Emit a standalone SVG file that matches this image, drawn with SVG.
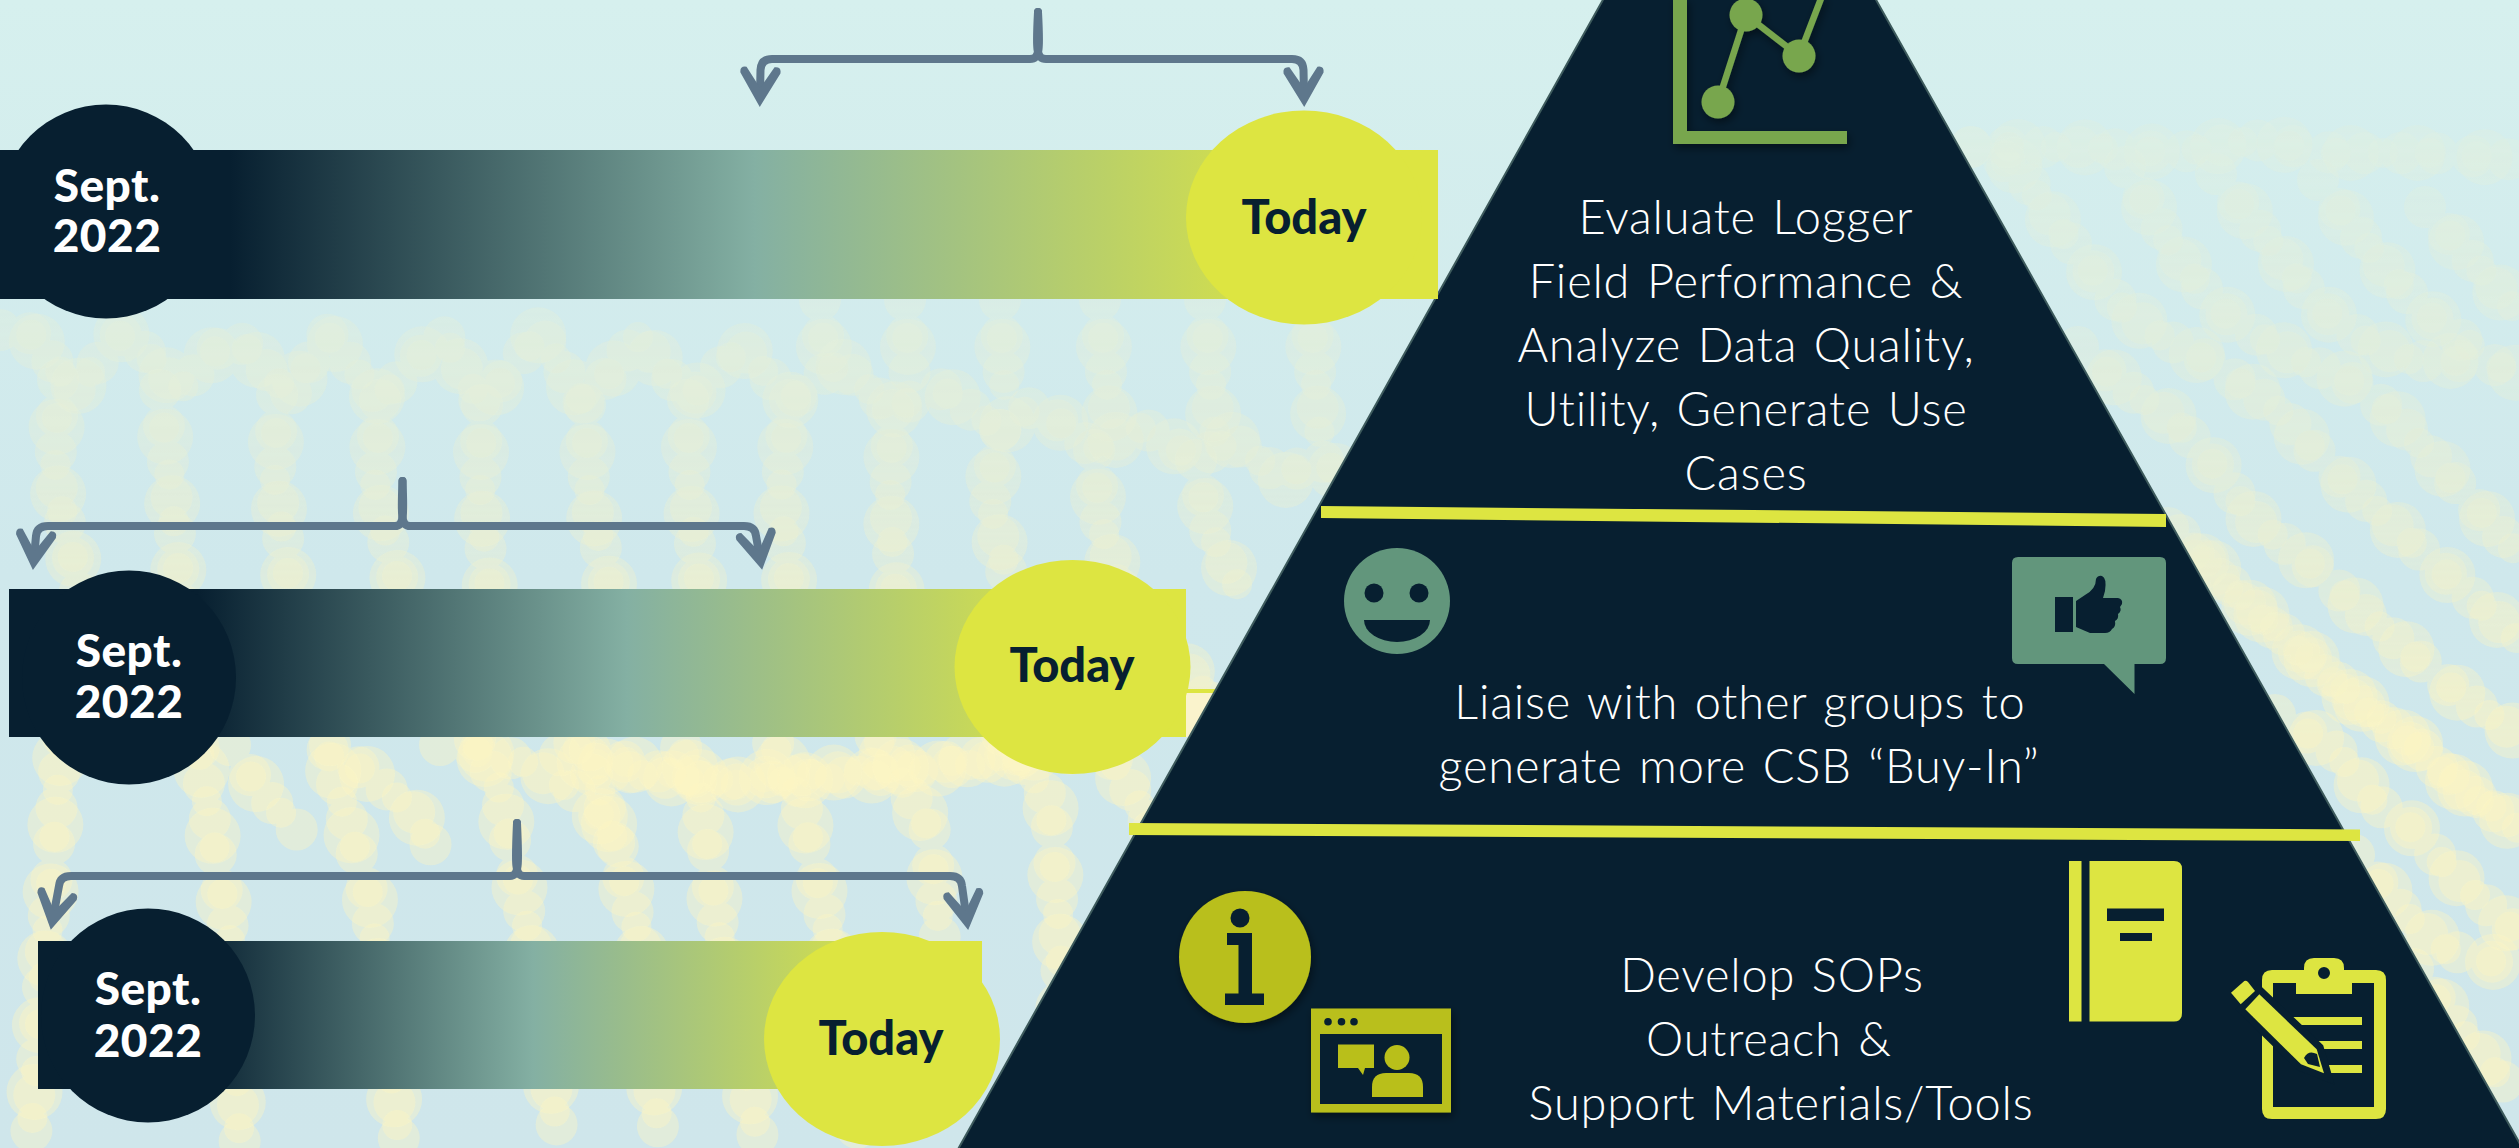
<svg xmlns="http://www.w3.org/2000/svg" xmlns:xlink="http://www.w3.org/1999/xlink" width="2519" height="1148" viewBox="0 0 2519 1148">
<style>
.t{font-family:"Lato","Liberation Sans",sans-serif;text-anchor:middle}
.b{font-size:47px;font-weight:300;fill:#fff;letter-spacing:.8px;word-spacing:3px}
.s{font-size:46px;font-weight:900;fill:#fff;letter-spacing:.5px}
.d{font-size:47px;font-weight:900;fill:#071f30}
.dark{fill:#071f30}
.yel{fill:#dde541}
.ol{fill:#b9bf1a}
.gr{fill:#62967c}
.br{fill:none;stroke:#5e778c;stroke-width:8;stroke-linecap:round;marker-end:url(#ah)}
.strand{fill:none;stroke-linecap:round;stroke:#fdf6c3;stroke-opacity:.4}
.l1{stroke-width:42;stroke-dasharray:0 36}
.l2{stroke-width:56;stroke-dasharray:0 67;stroke-dashoffset:20}
.l3{stroke-width:30;stroke-dasharray:0 47;stroke-dashoffset:9}
</style>
<defs>
<linearGradient id="bg" x1="0" y1="0" x2="0" y2="1"><stop offset="0" stop-color="#d6f0ee"/><stop offset=".5" stop-color="#cfe8ec"/><stop offset="1" stop-color="#cfe6eb"/></linearGradient>
<linearGradient id="bar" x1="0" y1="0" x2="1" y2="0"><stop offset=".16" stop-color="#071f30"/><stop offset=".525" stop-color="#84b0a3"/><stop offset=".92" stop-color="#dde541"/></linearGradient>
<linearGradient id="mg" gradientUnits="userSpaceOnUse" x1="0" y1="120" x2="0" y2="1148"><stop offset="0" stop-color="#444"/><stop offset=".33" stop-color="#888"/><stop offset=".6" stop-color="#fff"/></linearGradient>
<mask id="fade" maskUnits="userSpaceOnUse" x="0" y="0" width="2519" height="1148"><rect width="2519" height="1148" fill="url(#mg)"/></mask>
<marker id="ah" markerUnits="userSpaceOnUse" markerWidth="44" markerHeight="44" refX="28" refY="20" orient="auto" overflow="visible"><path d="M40 20L6 0Q-1 -1 0 6L21 20L0 34Q-1 41 6 40Z" fill="#5e778c"/></marker>
<filter id="sh" x="-20%" y="-20%" width="140%" height="140%"><feDropShadow dx="2" dy="4" stdDeviation="4" flood-color="#000" flood-opacity=".45"/></filter>
<g id="strands">
<path d="M0 330L22 323L75 390L125 330L180 390L232 333L290 395L326 333L380 400L442 333L482 405L540 333L585 405L638 337L688 400L741 347L790 400L839 363L893 410L938 387L1000 430L1036 403L1094 450L1143 427L1196 460L1232 440L1286 480L1312 453L1360 490"/>
<path d="M58 380L55 480L80 588L60 760L50 900L30 1148"/>
<path d="M160 390L170 480L180 588L200 760L230 940L240 1148"/>
<path d="M277 395L275 480L290 588L330 760L370 900L400 1148"/>
<path d="M380 400L375 490L400 588L500 790L530 940L560 1148"/>
<path d="M482 405L480 500L490 588L600 790L640 940L660 1148"/>
<path d="M585 405L590 500L610 588L700 790L720 940L760 1148"/>
<path d="M688 400L690 500L700 588L800 800L830 940L860 1148"/>
<path d="M790 400L780 500L790 588L930 830L940 940"/>
<path d="M893 410L890 500L895 588L1050 800L1060 940L1070 1148"/>
<path d="M1000 430L990 500L1010 588L1160 840L1190 940"/>
<path d="M1094 450L1100 520L1120 588L1290 800L1300 940"/>
<path d="M1196 460L1210 530L1240 590"/>
<path d="M820 300L825 360M905 300L910 380M1000 300L1005 400M1100 300L1110 420M1205 300L1215 440M1310 300L1320 440"/>
<path d="M590 750L650 770L720 780L800 775L870 770L960 760L1060 750"/>
<path d="M560 755L640 775L730 785L810 780L880 775L970 765L1080 745"/>
<path d="M440 745L520 760L590 800L620 850M330 745L413 810L436 855M230 745L260 790L300 833"/>
<path d="M1971 147L2018 167L2058 227L2090 267L2121 307L2157 334L2208 361L2275 407L2330 468L2374 508L2425 555L2492 615L2519 641"/>
<path d="M2125 167L2153 214L2176 254L2216 307L2255 334L2303 361L2350 381L2393 414L2429 454L2465 494L2519 555"/>
<path d="M2216 174L2247 214L2283 260L2318 307L2366 341L2413 361L2484 361L2519 374"/>
<path d="M2318 180L2358 234L2401 287L2441 327L2484 354"/>
<path d="M2425 207L2472 260L2519 314"/>
<path d="M1971 147L2078 147L2176 153L2255 140L2334 153L2433 153L2519 160"/>
<path d="M2078 347L2125 387L2176 421L2216 468L2255 521L2307 561L2366 615L2405 648L2460 695L2519 735"/>
<path d="M2168 528L2235 595L2295 648L2354 701L2409 742L2460 788L2519 829"/>
<path d="M2180 535L2245 600L2305 653L2364 706L2419 747L2470 793L2519 824"/>
<path d="M2275 715L2334 748L2374 802L2413 829L2453 875L2519 935"/>
<path d="M2354 855L2405 915L2445 949L2519 969"/>
<path d="M2413 969L2453 1022L2504 1083"/>
</g>
</defs>
<rect id="background" width="2519" height="1148" fill="url(#bg)"/>
<g id="pattern" mask="url(#fade)" class="strand">
<use href="#strands" class="l1"/><use href="#strands" class="l2"/><use href="#strands" class="l3"/>
</g>
<g transform="translate(0 1)">
<g id="stub"><rect x="1186" y="688" width="30" height="4" class="yel"/><rect x="1186" y="692" width="30" height="44" fill="#faf3cc"/></g>
<g id="pyramid">
<path d="M1604 -3H1875L2524 1150H957Z" class="dark" stroke="#3d5a5c" stroke-width="2"/>
<path d="M1321 505L2166 513V526L1321 517Z" class="yel"/>
<path d="M1129 822L2360 828.500V840L1129 834Z" class="yel"/>
</g>
<g id="node-evaluate">
<g filter="url(#sh)" fill="#78a64e">
<path d="M1673 -3H1687V130H1847V143H1673Z"/>
<path d="M1718 101L1746 14L1799 55L1822 -5" fill="none" stroke="#78a64e" stroke-width="6.500"/>
<circle cx="1746" cy="14" r="16.500"/><circle cx="1799" cy="55" r="16.500"/><circle cx="1718" cy="101" r="16.500"/>
</g>
<text class="t b"><tspan x="1746" y="233">Evaluate Logger</tspan><tspan x="1746" y="297">Field Performance &amp;</tspan><tspan x="1746" y="361">Analyze Data Quality,</tspan><tspan x="1746" y="425">Utility, Generate Use</tspan><tspan x="1746" y="489">Cases</tspan></text>
</g>
<g id="node-liaise">
<g id="smiley"><circle cx="1397" cy="600" r="53" class="gr"/><circle cx="1374" cy="592" r="9.500" class="dark"/><circle cx="1419" cy="592" r="9.500" class="dark"/><path d="M1364 619H1430A33 22 0 0 1 1364 619Z" class="dark"/></g>
<g id="bubble"><path d="M2018 556H2160Q2166 556 2166 562V657Q2166 663 2160 663H2134.500V693L2104 663H2018Q2012 663 2012 657V562Q2012 556 2018 556Z" class="gr"/>
<rect x="2055" y="596" width="18" height="35" class="dark"/>
<path d="M2076 600L2085 594Q2096 588 2096 578Q2098 574 2102 575Q2107 577 2105 590L2103 597H2118Q2123 598 2122 603L2120 606Q2122 610 2118 613Q2119 618 2115 620Q2116 626 2112 628Q2110 632 2105 632H2090L2076 626Z" class="dark"/></g>
<text class="t b"><tspan x="1740" y="718">Liaise with other groups to</tspan><tspan x="1739" y="782">generate more CSB “Buy-In”</tspan></text>
</g>
<g id="node-develop">
<g id="info" filter="url(#sh)"><circle cx="1245" cy="956" r="66" class="ol"/></g>
<circle cx="1240" cy="917" r="9.500" class="dark"/>
<path d="M1227 932H1252V992.600H1264V1004H1225V992.600H1238.500V944H1227Z" class="dark"/>
<g id="window" filter="url(#sh)"><rect x="1311" y="1007.500" width="140" height="104" class="ol"/></g>
<rect x="1320" y="1033" width="122" height="70" class="dark"/>
<circle cx="1328" cy="1020.700" r="3.800" class="dark"/><circle cx="1341.500" cy="1020.700" r="3.800" class="dark"/><circle cx="1354" cy="1020.700" r="3.800" class="dark"/>
<path d="M1338 1043.500H1374V1067H1365L1363 1074L1358 1067H1338Z" class="ol"/>
<circle cx="1397" cy="1056.500" r="12.500" class="ol"/>
<path d="M1372 1096V1086Q1372 1072 1386 1072H1409Q1423 1072 1423 1086V1096Z" class="ol"/>
<g id="book" class="yel"><rect x="2069" y="860" width="12.500" height="160.500"/><path d="M2089.500 860H2174Q2182 860 2182 868V1012Q2182 1020.500 2174 1020.500H2089.500Z"/></g>
<rect x="2107" y="907.500" width="57" height="12.500" class="dark"/><rect x="2120" y="932" width="32" height="8" class="dark"/>
<g id="clipboard">
<path fill-rule="evenodd" d="M2272 969H2304V967Q2304 957 2314 957H2334Q2344 957 2344 967V969H2376Q2386 969 2386 979V1108Q2386 1118 2376 1118H2272Q2262 1118 2262 1108V979Q2262 969 2272 969ZM2273 982V1106H2374V982H2352V993H2296V982ZM2324 966A6 6 0 1 0 2324 978A6 6 0 1 0 2324 966Z" class="yel"/>
<path d="M2292 1016H2362V1024H2300ZM2316 1040H2362V1048H2324ZM2328 1064H2362V1072H2330Z" class="yel"/>
<path d="M2259 993L2245 1008L2301 1063L2324 1072L2317 1048Z" class="dark" stroke="#071f30" stroke-width="14" stroke-linejoin="miter"/>
<path d="M2259.300 993.300L2245.300 1008.300L2301 1063.300L2324 1072.300L2316.700 1048.300Z" class="yel"/>
<path d="M2304 1057Q2308 1050 2314 1052L2317 1053L2320 1066L2308 1063Z" class="dark"/>
<path d="M2244.300 980L2231 991.700L2240.700 1003.300L2255 990L2248 981Q2246 979 2244.300 980Z" class="yel"/>
</g>
<text class="t b"><tspan x="1772" y="991">Develop SOPs</tspan><tspan x="1769" y="1055">Outreach &amp;</tspan><tspan x="1781" y="1119">Support Materials/Tools</tspan></text>
</g>
<g id="timeline-1">
<circle cx="106" cy="210.500" r="107" class="dark"/>
<rect x="0" y="149" width="1438" height="149" fill="url(#bar)"/>
<ellipse cx="1304" cy="216.500" rx="118" ry="107" class="yel"/>
<text class="t s"><tspan x="107" y="201">Sept.</tspan><tspan x="107" y="251">2022</tspan></text>
<text class="t d" x="1304" y="233">Today</text>
</g>
<g id="timeline-2">
<rect x="9" y="588" width="1177" height="148" fill="url(#bar)"/>
<circle cx="129" cy="676.500" r="107" class="dark"/>
<ellipse cx="1072.500" cy="666" rx="118" ry="107" class="yel"/>
<text class="t s"><tspan x="129" y="666">Sept.</tspan><tspan x="129" y="717">2022</tspan></text>
<text class="t d" x="1072" y="681">Today</text>
</g>
<g id="timeline-3">
<rect x="38" y="940" width="944" height="148" fill="url(#bar)"/>
<circle cx="148" cy="1014.500" r="107" class="dark"/>
<ellipse cx="882" cy="1038" rx="118" ry="107" class="yel"/>
<text class="t s"><tspan x="148" y="1004">Sept.</tspan><tspan x="148" y="1056">2022</tspan></text>
<text class="t d" x="881" y="1054">Today</text>
</g>
<g id="connectors">
<path class="br" d="M1038 11C1040 48 1040 58 1030 58H772Q761 58 760.500 69L760 94"/>
<path class="br" d="M1038 11C1036 48 1036 58 1046 58H1292Q1303 58 1303.500 69L1304 94"/>
<path class="br" d="M402.500 480C404 515 404 525 395 525H48Q37 525 36 535L34 557"/>
<path class="br" d="M402.500 480C401 515 401 525 410 525H744Q755 525 756 535L760 557"/>
<path class="br" d="M517 822C519 865 519 875 510 875H71Q60 875 59 885L53 917"/>
<path class="br" d="M517 822C515 865 515 875 524 875H950Q961 875 962 885L966.500 917"/>
</g>
</g>
</svg>
